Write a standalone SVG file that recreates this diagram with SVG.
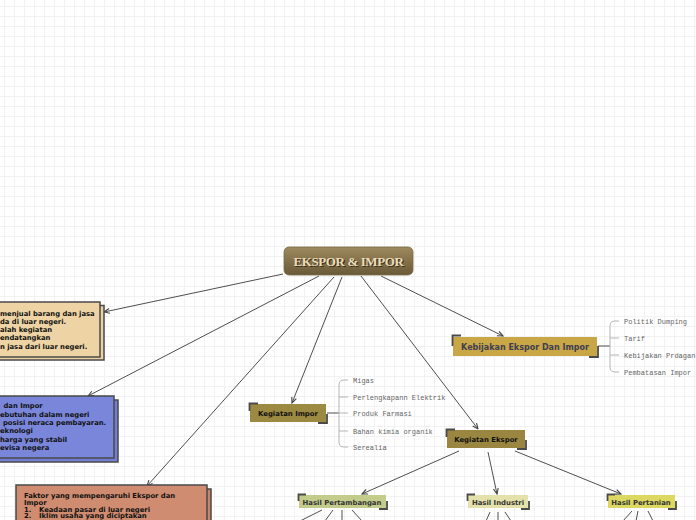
<svg xmlns="http://www.w3.org/2000/svg" width="696" height="520" viewBox="0 0 696 520">
<defs>
<pattern id="grid" width="10" height="10" patternUnits="userSpaceOnUse"><path d="M4.5 0V10M0 6.5H10" stroke="#f2f2f2" stroke-width="1" fill="none"/></pattern>
<linearGradient id="cg" x1="0" y1="0" x2="0" y2="1"><stop offset="0" stop-color="#9e8a5e"/><stop offset="1" stop-color="#6a5938"/></linearGradient>
<marker id="arr" viewBox="0 0 10 10" refX="9" refY="5" markerWidth="7" markerHeight="7" orient="auto" markerUnits="userSpaceOnUse"><path d="M1,1.5 L9,5 L1,8.5" fill="none" stroke="#444" stroke-width="1.6"/></marker>
<style>
.bx{stroke:#4a4a4a;stroke-width:1.5}
.t{font-family:"DejaVu Sans",Verdana,sans-serif;font-weight:bold;font-size:6.8px;fill:#111}
.tn{font-family:"DejaVu Sans",Verdana,sans-serif;font-weight:bold;font-size:6.9px;fill:#111;text-anchor:middle}
.th{font-family:"DejaVu Sans",Verdana,sans-serif;font-weight:bold;font-size:6.9px;fill:#333;text-anchor:middle}
.m{font-family:"Liberation Mono","Courier New",monospace;font-size:7px;fill:#666}
.c{fill:none;stroke:#4f4f4f;stroke-width:1}
.br{fill:none;stroke:#b5b5b5;stroke-width:1}
.lc{fill:none;stroke:#4a4a4a;stroke-width:1.8}
</style>
</defs>
<rect width="696" height="520" fill="#ffffff"/>
<rect width="696" height="520" fill="url(#grid)"/>

<g id="connectors">
<path class="c" d="M283 274L104 312" marker-end="url(#arr)"/>
<path class="c" d="M319 276L88 396" marker-end="url(#arr)"/>
<path class="c" d="M334 277L147 486" marker-end="url(#arr)"/>
<path class="c" d="M342 277L292 403" marker-end="url(#arr)"/>
<path class="c" d="M361 276L478 429" marker-end="url(#arr)"/>
<path class="c" d="M381 276L503 336" marker-end="url(#arr)"/>
<path class="c" d="M459 451L362 494" marker-end="url(#arr)"/>
<path class="c" d="M488 452L497 494" marker-end="url(#arr)"/>
<path class="c" d="M515 451L621 494" marker-end="url(#arr)"/>
<path class="c" d="M322 510L300 521M333 510L325 521M342 510V521M352 510L362 521"/>
<path class="c" d="M490 512L486 521M498 512V521M505 512L511 521"/>
<path class="c" d="M632 511L623 521M638 511L636 521M648 511L653 521"/>
<path class="c" stroke-width="1.3" d="M327 413H339"/>
<path class="br" d="M348 380H344Q339 380 339 385V442Q339 447 344 447H348M339 397H348M339 413H348M339 431H348"/>
<path class="c" stroke-width="1.3" d="M598 346H610"/>
<path class="br" d="M619 321H615Q610 321 610 326V367Q610 372 615 372H619M610 338H619M610 355H619"/>
</g>

<g id="center">
<rect x="284" y="247" width="129" height="28" rx="5" fill="url(#cg)" stroke="#7a6a48" stroke-width="0.8"/>
<text x="349" y="266" text-anchor="middle" font-family="'Liberation Serif','Times New Roman',serif" font-weight="bold" font-size="13" letter-spacing="-0.4" fill="#3a2f1c" dx="0.6" dy="0.6">EKSPOR &amp; IMPOR</text>
<text x="348.5" y="265.5" text-anchor="middle" font-family="'Liberation Serif','Times New Roman',serif" font-weight="bold" font-size="13" letter-spacing="-0.4" fill="#ebdcb8">EKSPOR &amp; IMPOR</text>
</g>

<g id="pengertian">
<rect class="bx" x="-10" y="305.5" width="114" height="54.5" fill="#ecd2a2"/>
<rect class="bx" x="-10" y="302" width="110" height="55" fill="#eed4a4"/>
<text class="t" x="0" y="315.5">menjual barang dan jasa</text>
<text class="t" x="0" y="323.8">da di luar negeri.</text>
<text class="t" x="0" y="332">alah kegiatan</text>
<text class="t" x="0" y="340.3">endatangkan</text>
<text class="t" x="0" y="348.5">n jasa dari luar negeri.</text>
</g>

<g id="manfaat">
<rect class="bx" x="-6" y="400" width="124" height="62" fill="#727ed2"/>
<rect class="bx" x="-10" y="396" width="124" height="62" fill="#7a86da"/>
<text class="t" x="3.5" y="408">dan Impor</text>
<text class="t" x="0" y="416.5">ebutuhan dalam negeri</text>
<text class="t" x="3" y="425">posisi neraca pembayaran.</text>
<text class="t" x="0" y="433.3">eknologi</text>
<text class="t" x="0" y="441.6">harga yang stabil</text>
<text class="t" x="0" y="450">evisa negera</text>
</g>

<g id="faktor">
<rect class="bx" x="20" y="489" width="191" height="60" fill="#c8856a"/>
<rect class="bx" x="16" y="485" width="191" height="60" fill="#cf8c70"/>
<text class="t" font-size="6.9" x="24" y="497.5">Faktor yang mempengaruhi Ekspor dan</text>
<text class="t" font-size="6.9" x="24" y="504.6">Impor</text>
<text class="t" font-size="6.9" x="24" y="511.6">1.<tspan x="39">Keadaan pasar di luar negeri</tspan></text>
<text class="t" font-size="6.9" x="24" y="518.2">2.<tspan x="39">Iklim usaha yang diciptakan</tspan></text>
</g>

<g id="kegiatan-impor">
<rect x="250" y="404" width="76" height="18" fill="#9c8942"/>
<path class="lc" d="M249.5 411V403.5H258M327 414V423H318"/>
<text class="tn" x="288" y="415.5">Kegiatan Impor</text>
</g>
<g id="impor-items">
<text class="m" x="353" y="382.5">Migas</text>
<text class="m" x="353" y="399.5">Perlengkapann Elektrik</text>
<text class="m" x="353" y="415.5">Produk Farmasi</text>
<text class="m" x="353" y="433.5">Bahan kimia organik</text>
<text class="m" x="353" y="450">Serealia</text>
</g>

<g id="kebijakan">
<rect x="453" y="337" width="144" height="19" fill="#c9a646"/>
<path class="lc" d="M452.5 346V335.5H461M598 346V357H589"/>
<text x="525" y="350" text-anchor="middle" font-family="'DejaVu Sans',Verdana,sans-serif" font-weight="bold" font-size="8" fill="#3e3e52">Kebijakan Ekspor Dan Impor</text>
</g>
<g id="kebijakan-items">
<text class="m" x="624" y="323.5">Politik Dumping</text>
<text class="m" x="624" y="340.5">Tarif</text>
<text class="m" x="624" y="357.5">Kebijakan Prdagan</text>
<text class="m" x="624" y="374.5">Pembatasan Impor</text>
</g>

<g id="kegiatan-ekspor">
<rect x="447" y="430" width="78" height="18" fill="#9a8640"/>
<path class="lc" d="M446.5 437V429.5H455M526 440V449H517"/>
<text class="tn" x="486" y="441.5">Kegiatan Ekspor</text>
</g>

<g id="hasil-pertambangan">
<rect x="299" y="495" width="87" height="13" fill="#c4cc8c"/>
<path class="lc" d="M298.5 501V494.5H306M387 501V509H379"/>
<text class="th" x="342" y="504.5">Hasil Pertambangan</text>
</g>
<g id="hasil-industri">
<rect x="468" y="495" width="60" height="13" fill="#e4e2aa"/>
<path class="lc" d="M467.5 501V494.5H475M529 501V509H521"/>
<text class="th" x="498" y="504.5">Hasil Industri</text>
</g>
<g id="hasil-pertanian">
<rect x="608" y="495" width="67" height="13" fill="#dcd862"/>
<path class="lc" d="M607.5 501V494.5H615M676 501V509H668"/>
<text class="th" x="641" y="504.5">Hasil Pertanian</text>
</g>
</svg>
